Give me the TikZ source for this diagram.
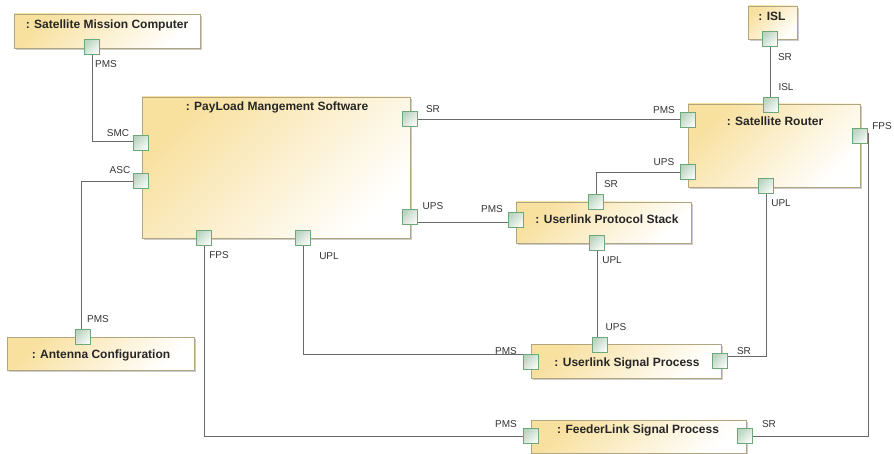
\documentclass[tikz,border=0pt]{standalone}
\usepackage{fontspec}
\setmainfont{Liberation Sans}
\usetikzlibrary{calc,shadows}

\definecolor{compyellow}{RGB}{248,224,158}
\definecolor{compline}{RGB}{176,166,128}
\definecolor{portgreen}{RGB}{110,168,122}
\definecolor{portfill}{RGB}{186,212,192}
\definecolor{wiregray}{RGB}{105,105,105}

\tikzset{
  comp/.style={rectangle, draw=compline, line width=0.8pt, top color=compyellow, bottom color=white, shading angle=45,
    drop shadow={shadow xshift=2pt, shadow yshift=-2pt, fill=black!40, opacity=0.5}, inner sep=0pt},
  ttl/.style={font=\fontsize{12}{14}\selectfont\bfseries, text=black!85, inner sep=0pt, text height=8.6pt, text depth=0pt},
  port/.style={rectangle, draw=portgreen, line width=0.8pt, top color=portfill, bottom color=white!92!portfill, shading angle=45,
    minimum size=15.5pt, inner sep=0pt},
  lbl/.style={font=\fontsize{10}{12}\selectfont, text=black!80, inner sep=0pt, text height=7.2pt, text depth=0pt},
  wire/.style={draw=wiregray, line width=0.9pt}
}

\begin{document}
\begin{tikzpicture}[x=1pt, y=-1pt]
    \useasboundingbox (0,0) rectangle (894,454);
    % Place components
    \node [comp, minimum width=186pt, minimum height=34pt] (smc) at (107,31) {};
    \node [ttl] (smcT) at (107,24) {: Satellite Mission Computer};
    \node [comp, minimum width=268pt, minimum height=141pt] (pms) at (276,167.5) {};
    \node [ttl] (pmsT) at (277,106) {: PayLoad Mangement Software};
    \node [comp, minimum width=49pt, minimum height=33pt] (isl) at (772.5,22.5) {};
    \node [ttl] (islT) at (772,16) {: ISL};
    \node [comp, minimum width=172pt, minimum height=83pt] (rt) at (774,145.5) {};
    \node [ttl] (rtT) at (775,121) {: Satellite Router};
    \node [comp, minimum width=175pt, minimum height=41pt] (ups) at (603.5,222.5) {};
    \node [ttl] (upsT) at (607,219) {: Userlink Protocol Stack};
    \node [comp, minimum width=190pt, minimum height=34pt] (usp) at (626,361) {};
    \node [ttl] (uspT) at (627,362) {: Userlink Signal Process};
    \node [comp, minimum width=187pt, minimum height=33pt] (ant) at (100.5,353.5) {};
    \node [ttl] (antT) at (101,354) {: Antenna Configuration};
    \node [comp, minimum width=215pt, minimum height=33pt] (fsp) at (638.5,436.5) {};
    \node [ttl] (fspT) at (638,429) {: FeederLink Signal Process};

    % Place ports
    \node [port] (smcPMS) at (92,47) {};
    \node [port] (pmsSMC) at (141,143) {};
    \node [port] (pmsASC) at (141,181) {};
    \node [port] (pmsSR) at (410,119) {};
    \node [port] (pmsUPS) at (410,217) {};
    \node [port] (pmsFPS) at (204,238) {};
    \node [port] (pmsUPL) at (303,238) {};
    \node [port] (islSR) at (770,39) {};
    \node [port] (rtISL) at (771,105) {};
    \node [port] (rtPMS) at (688,120) {};
    \node [port] (rtUPS) at (688,172) {};
    \node [port] (rtFPS) at (860,136) {};
    \node [port] (rtUPL) at (766,186) {};
    \node [port] (upsPMS) at (516,220) {};
    \node [port] (upsSR) at (596,202) {};
    \node [port] (upsUPL) at (597,243) {};
    \node [port] (uspUPS) at (600,345) {};
    \node [port] (uspPMS) at (531,362) {};
    \node [port] (uspSR) at (720,361) {};
    \node [port] (antPMS) at (83,337) {};
    \node [port] (fspPMS) at (531,436) {};
    \node [port] (fspSR) at (745,436) {};

    % Port labels
    \node [lbl] (lSmcPMS) at (106,64) {PMS};
    \node [lbl] (lPmsSMC) at (118,133) {SMC};
    \node [lbl] (lPmsASC) at (120,170) {ASC};
    \node [lbl] (lPmsSR) at (433,109) {SR};
    \node [lbl] (lPmsUPS) at (433,206) {UPS};
    \node [lbl] (lPmsFPS) at (219,255) {FPS};
    \node [lbl] (lPmsUPL) at (329,256) {UPL};
    \node [lbl] (lAntPMS) at (98,319) {PMS};
    \node [lbl] (lIslSR) at (785,57) {SR};
    \node [lbl] (lRtISL) at (786,87) {ISL};
    \node [lbl] (lRtPMS) at (664,110) {PMS};
    \node [lbl] (lRtUPS) at (664,162) {UPS};
    \node [lbl] (lRtFPS) at (882,126) {FPS};
    \node [lbl] (lRtUPL) at (781,203) {UPL};
    \node [lbl] (lUpsPMS) at (492,209) {PMS};
    \node [lbl] (lUpsSR) at (611,184) {SR};
    \node [lbl] (lUpsUPL) at (612,260) {UPL};
    \node [lbl] (lUspUPS) at (616,327) {UPS};
    \node [lbl] (lUspPMS) at (506,351) {PMS};
    \node [lbl] (lUspSR) at (744,351) {SR};
    \node [lbl] (lFspPMS) at (506,424) {PMS};
    \node [lbl] (lFspSR) at (769,424) {SR};

    % Connectors
    \path [wire] (smcPMS) |- ([yshift=2pt]pmsSMC.west);
    \path [wire] ([xshift=-2pt]antPMS.north) |- (pmsASC);
    \path [wire] (pmsSR) -- (pmsSR -| rtPMS.west);
    \path [wire] ([yshift=-5pt]pmsUPS.east) -- ([yshift=-2pt]upsPMS.west);
    \path [wire] (rtUPS) -| (upsSR);
    \path [wire] (islSR) -- (islSR |- rtISL.north);
    \path [wire] (upsUPL) -- (upsUPL |- uspUPS.north);
    \path [wire] (pmsUPL) |- ([yshift=-1pt]uspPMS.north west);
    \path [wire] ([yshift=5pt]uspSR.east) -| (rtUPL);
    \path [wire] (pmsFPS) |- (fspPMS);
    \path [wire] (fspSR) -| ([yshift=3pt]rtFPS.east);
\end{tikzpicture}
\end{document}
